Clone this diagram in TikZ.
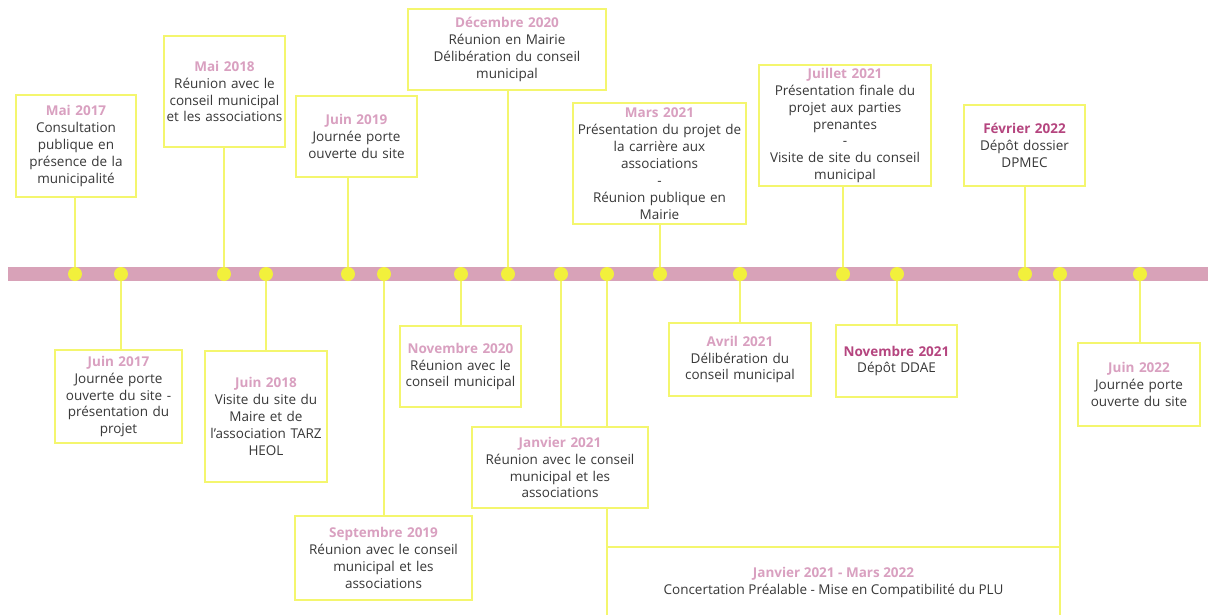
\documentclass[tikz,border=0pt]{standalone}
\usepackage{fontspec}
\setmainfont{Open Sans}
\usetikzlibrary{backgrounds}
\definecolor{barpink}{HTML}{D8A2B8}
\definecolor{dotyellow}{HTML}{F2F03C}
\definecolor{boxyellow}{HTML}{F4F66E}
\definecolor{datepink}{HTML}{D9A0C0}
\definecolor{datedark}{HTML}{B5457F}
\definecolor{bodygray}{HTML}{383838}
\newcommand{\mois}[1]{{\bfseries\color{datepink}#1}}
\newcommand{\moisfort}[1]{{\bfseries\color{datedark}#1}}

\begin{document}
\begin{tikzpicture}[x=1pt, y=-1pt, font=\fontsize{13.5}{16.9}\selectfont, text=bodygray,
    evt/.style={draw=boxyellow, line width=1.5pt, fill=white, align=center, inner sep=1pt},
    dot/.style={circle, fill=dotyellow, inner sep=0pt, minimum size=14pt},
    conn/.style={draw=boxyellow, line width=1.5pt}]
        \useasboundingbox (0,0) rectangle (1208,614);

        % points on the time line
        \foreach \x [count=\i] in {75,121,224,266,348,384,461,508,561,607,660,740,843,897,1025,1060,1140}
            \node[dot] (d\i) at (\x,274) {};

        % above the line
        \node[evt, text width=118pt, minimum height=102pt] (mai17) at (76,146)
            {\mois{Mai 2017}\\Consultation\\publique en\\présence de la\\municipalité};
        \node[evt, text width=119pt, minimum height=111pt] (mai18) at (224.5,91.5)
            {\mois{Mai 2018}\\Réunion avec le\\conseil municipal\\et les associations};
        \node[evt, text width=119pt, minimum height=81pt] (juin19) at (356.5,136.5)
            {\mois{Juin 2019}\\Journée porte\\ouverte du site};
        \node[evt, text width=196pt, minimum height=81pt] (dec20) at (507,49.5)
            {\mois{Décembre 2020}\\Réunion en Mairie\\Délibération du conseil\\municipal};
        \node[evt, text width=171pt, minimum height=121pt] (mars21) at (659.5,163.5)
            {\mois{Mars 2021}\\Présentation du projet de\\la carrière aux\\associations\\-\\Réunion publique en\\Mairie};
        \node[evt, text width=170pt, minimum height=121pt] (juil21) at (845,125.5)
            {\mois{Juillet 2021}\\Présentation finale du\\projet aux parties\\prenantes\\-\\Visite de site du conseil\\municipal};
        \node[evt, text width=119pt, minimum height=81pt] (fev22) at (1024.5,145.5)
            {\moisfort{Février 2022}\\Dépôt dossier\\DPMEC};

        % below the line
        \node[evt, text width=125pt, minimum height=93pt] (juin17) at (118.5,396.5)
            {\mois{Juin 2017}\\Journée porte\\ouverte du site -\\présentation du\\projet};
        \node[evt, text width=120pt, minimum height=131pt] (juin18) at (266,416.5)
            {\mois{Juin 2018}\\Visite du site du\\Maire et de\\l’association TARZ\\HEOL};
        \node[evt, text width=175pt, minimum height=84pt] (sept19) at (383.5,558)
            {\mois{Septembre 2019}\\Réunion avec le conseil\\municipal et les\\associations};
        \node[evt, text width=119pt, minimum height=81pt] (nov20) at (460.5,366.5)
            {\mois{Novembre 2020}\\Réunion avec le\\conseil municipal};
        \node[evt, text width=174pt, minimum height=81pt] (janv21) at (560,467.5)
            {\mois{Janvier 2021}\\Réunion avec le conseil\\municipal et les\\associations};
        \node[evt, text width=140pt, minimum height=73pt] (avr21) at (740,359.5)
            {\mois{Avril 2021}\\Délibération du\\conseil municipal};
        \node[evt, text width=119pt, minimum height=72pt] (nov21) at (896.5,361)
            {\moisfort{Novembre 2021}\\Dépôt DDAE};
        \node[evt, text width=120pt, minimum height=83pt] (juin22) at (1139,384.5)
            {\mois{Juin 2022}\\Journée porte\\ouverte du site};
        \node[evt, minimum width=453pt, minimum height=71pt] (concert) at (833.5,582.5)
            {\mois{Janvier 2021 - Mars 2022}\\Concertation Préalable - Mise en Compatibilité du PLU};

        \begin{scope}[on background layer]
            \fill[white] (0,0) rectangle (1208,614);
            \fill[barpink] (8,267) rectangle (1208,281);
            \foreach \i/\b in {1/mai17, 3/mai18, 5/juin19, 8/dec20, 11/mars21, 13/juil21, 15/fev22}
                \draw[conn] (d\i) -- (d\i |- \b.south);
            \foreach \i/\b in {2/juin17, 4/juin18, 6/sept19, 7/nov20, 9/janv21, 10/concert, 12/avr21, 14/nov21, 16/concert, 17/juin22}
                \draw[conn] (d\i) -- (d\i |- \b.north);
        \end{scope}
    \end{tikzpicture}
\end{document}
